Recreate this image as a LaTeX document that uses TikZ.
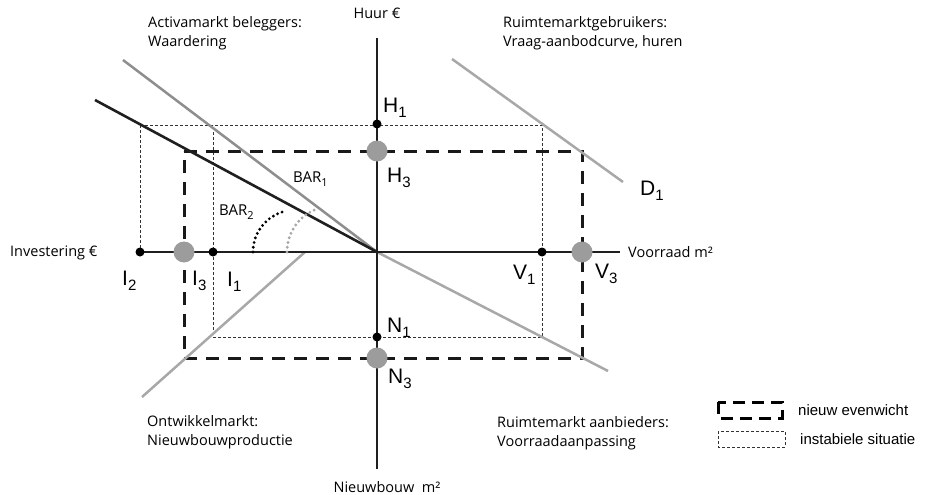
\documentclass[tikz,border=0pt]{standalone}
\usepackage{fontspec}
\setmainfont{Open Sans}
\newfontfamily\arialf{Liberation Sans}
\definecolor{lgray}{HTML}{A8A8A8}
\definecolor{mgray}{HTML}{8E8E8E}
\definecolor{cgray}{HTML}{9C9C9C}
\newcommand\lsub[2]{#1\raisebox{-5pt}{\fontsize{15}{15}\selectfont #2}}
\newcommand\bsub[2]{#1\raisebox{-4pt}{\fontsize{11}{11}\selectfont #2}}
\begin{document}
\begin{tikzpicture}[x=1pt,y=-1pt,
  axisline/.style={line width=2.6pt, black!88},
  grayline/.style={line width=2.5pt, lgray},
  thindash/.style={line width=0.9pt, black!80, dash pattern=on 3pt off 2pt},
  thickdash/.style={line width=3pt, black!90, dash pattern=on 13pt off 9pt},
  bdot/.style={circle, fill=black, inner sep=0pt, minimum size=9pt},
  gdot/.style={circle, fill=cgray, inner sep=0pt, minimum size=21pt},
  lettr/.style={font=\arialf\fontsize{21}{21}\selectfont, anchor=base west, inner sep=0pt},
  bartxt/.style={font=\fontsize{15}{15}\selectfont, anchor=base west, inner sep=0pt},
  txt/.style={font=\fontsize{14.5}{19}\selectfont, align=left, anchor=west, inner sep=0pt},
  legtxt/.style={font=\arialf\fontsize{15}{15}\selectfont, anchor=west, inner sep=0pt},
  arcdots/.style={line width=3.2pt, line cap=round, dash pattern=on 0pt off 4.8pt}
]
\useasboundingbox (0,0) rectangle (926,495);

% coordinates
\coordinate (O) at (377,252);
\coordinate (vtop) at (377,38);
\coordinate (vbot) at (377,469);
\coordinate (hleft) at (140,252);
\coordinate (hright) at (620,252);

% thin dashed (instabiele situatie)
\coordinate (t1) at (140,125);
\coordinate (t2) at (542,125);
\coordinate (t3) at (542,337);
\coordinate (t4) at (213,337);
\coordinate (t5) at (213,125);
\draw[thindash] (t1) -- (t2) -- (t3) -- (t4) -- (t5);
\draw[thindash] (t1) -- (hleft);

% thick dashed (nieuw evenwicht)
\coordinate (k1) at (184,151);
\coordinate (k2) at (582,151);
\coordinate (k3) at (582,358);
\coordinate (k4) at (184,358);
\draw[thickdash] (k1) -- (k2) -- (k3) -- (k4) -- cycle;

% gray curves
\coordinate (g1a) at (123,60);
\draw[grayline, mgray] (g1a) -- (O);
\coordinate (g2a) at (452,59);
\coordinate (g2b) at (623,182);
\draw[grayline] (g2a) -- (g2b);
\coordinate (g3a) at (142,397);
\coordinate (g3b) at (305,252);
\draw[grayline] (g3a) -- (g3b);
\coordinate (g4b) at (608,371);
\draw[grayline] (O) -- (g4b);

% black BAR2 line
\coordinate (b1) at (95,100);
\draw[axisline] (b1) -- (O);

% axes
\draw[axisline] (vtop) -- (vbot);
\draw[axisline] (hleft) -- (hright);

% angle arcs
\draw[arcdots, black] (253,252) arc[start angle=180, end angle=256, radius=42];
\draw[arcdots, lgray] (287,252) arc[start angle=180, end angle=250, radius=46];

% dots
\node[bdot] (H1) at (377,124) {};
\node[gdot] (H3) at (377,151) {};
\node[bdot] (N1) at (377,337) {};
\node[gdot] (N3) at (377,358) {};
\node[bdot] (I2) at (140,252) {};
\node[gdot] (I3) at (184,252) {};
\node[bdot] (I1) at (213,252) {};
\node[bdot] (V1) at (542,252) {};
\node[gdot] (V3) at (582,252) {};

% letter labels
\node[lettr] (lH1) at (383,112) {\lsub{H}{1}};
\node[lettr] (lH3) at (387,182) {\lsub{H}{3}};
\node[lettr] (lN1) at (387,332) {\lsub{N}{1}};
\node[lettr] (lN3) at (388,383) {\lsub{N}{3}};
\node[lettr] (lV1) at (513,279) {\lsub{V}{1}};
\node[lettr] (lV3) at (595,278) {\lsub{V}{3}};
\node[lettr] (lI2) at (122,285) {\lsub{I}{2}};
\node[lettr] (lI3) at (192,285) {\lsub{I}{3}};
\node[lettr] (lI1) at (227,286) {\lsub{I}{1}};
\node[lettr] (lD1) at (640,195) {\lsub{D}{1}};
\node[bartxt] (lB1) at (293,182) {\bsub{BAR}{1}};
\node[bartxt] (lB2) at (219,215) {\bsub{BAR}{2}};

% axis texts
\node[font=\fontsize{14.5}{19}\selectfont, inner sep=0pt] (huur) at (377,13) {Huur €};
\node[font=\fontsize{14.5}{19}\selectfont, inner sep=0pt] (nieuw) at (387,487) {Nieuwbouw~ m²};
\node[txt] (inv) at (10,253) {Investering €};
\node[txt] (voor) at (628,252) {Voorraad m²};

% quadrant texts
\node[txt] (q1) at (148,33) {Activamarkt beleggers:\\Waardering};
\node[txt] (q2) at (503,33) {Ruimtemarktgebruikers:\\Vraag-aanbodcurve, huren};
\node[txt] (q3) at (147,432) {Ontwikkelmarkt:\\Nieuwbouwproductie};
\node[txt] (q4) at (497,433) {Ruimtemarkt aanbieders:\\Voorraadaanpassing};

% legend
\coordinate (L1a) at (718,402);
\coordinate (L1b) at (782,418);
\draw[line width=3pt, dash pattern=on 12pt off 7pt] (L1a) rectangle (L1b);
\coordinate (L2a) at (718,431);
\coordinate (L2b) at (785,447);
\draw[line width=0.8pt, black!80, dash pattern=on 3pt off 2pt] (L2a) rectangle (L2b);
\node[legtxt] (leg1) at (798,410) {nieuw evenwicht};
\node[legtxt] (leg2) at (800,439) {instabiele situatie};
\end{tikzpicture}
\end{document}
